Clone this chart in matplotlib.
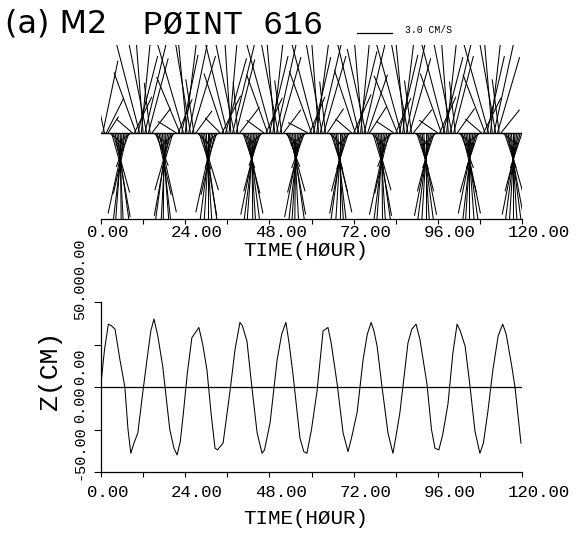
import numpy as np
import matplotlib
matplotlib.use('Agg')
import matplotlib.pyplot as plt
from matplotlib.collections import LineCollection
from matplotlib.transforms import ScaledTranslation
from matplotlib.lines import Line2D

MONO = ['Liberation Mono', 'DejaVu Sans Mono']

# water level at point 616 (hour, cm)
wl_hour = [0.2, 1.0, 2.1, 3.0, 4.0, 5.4, 6.8, 7.7, 8.5, 9.4, 10.5, 11.8, 13.1, 14.2,
           15.1, 16.2, 17.6, 19.6, 20.8, 21.7, 22.6, 23.4, 24.6, 25.9, 27.9, 29.0,
           30.2, 31.4, 32.5, 33.2, 34.8, 36.8, 38.2, 39.6, 40.3, 41.6, 43.0, 44.5,
           45.9, 46.6, 48.2, 50.2, 51.5, 52.7, 53.6, 54.7, 56.7, 57.8, 58.7, 60.0,
           61.6, 63.3, 64.7, 65.6, 67.3, 69.0, 70.4, 71.4, 73.0, 74.7, 75.9, 77.0,
           77.8, 78.7, 80.1, 81.8, 83.2, 84.0, 85.2, 87.5, 88.6, 89.8, 90.9, 92.9,
           94.2, 95.2, 96.3, 97.4, 98.9, 100.3, 101.5, 102.4, 103.8, 105.2, 106.6,
           108.0, 109.0, 110.3, 111.7, 113.2, 114.5, 115.5, 117.1, 118.0, 119.7]
wl_cm = [6, 22, 37, 36, 34, 16, 0, -25, -39, -33, -27, -5, 16, 33,
         40, 30, 12, -25, -36, -40, -32, -17, 8, 29, 35, 25,
         10, -16, -36, -37, -33, -2, 22, 38, 36, 27, 0, -27,
         -39, -37, -21, 16, 31, 38, 26, 8, -30, -38, -39, -25,
         -2, 33, 35, 26, 2, -27, -38, -30, -15, 16, 31, 38,
         33, 24, 0, -27, -39, -30, -15, 26, 34, 37, 28, 2,
         -25, -36, -37, -28, -10, 20, 37, 33, 24, 0, -26,
         -39, -33, -14, 10, 30, 37, 31, 12, 0, -33]

# M2 current sticks every 0.5 h (cm/s): u = east, v = north
u_cms = [
    -1.7, 1.3, -1.0, 1.5, 0.9,
    1.3, 0.9, 1.4, 1.3, 1.2, 0.5, 0.1, -0.7, -1.0, -1.5, -1.2, -1.1, -1.3,
    -1.4, 1.5, -1.9, 1.7, -2.1, 0.9, -0.7, 2.1, -1.6, 1.7, -0.5, 1.6,
    1.1, 1.1, 1.2, 1.5, 1.0, 0.7, -0.1, -0.5, -1.2, -1.3, -1.4, -0.9, -1.2,
    -1.6, 1.2, -2.0, 1.4, -2.3, 1.1, -0.9, 1.9, -1.3, 2.0, -0.7, 1.4,
    1.2, 1.0, 1.5, 1.2, 1.2, 0.6, 0.0, -0.6, -1.1, -1.5, -1.2, -1.0, -1.1,
    -1.3, 1.6, -1.7, 1.8, -2.0, 0.8, -0.6, 2.2, -1.7, 1.6, -0.4, 1.7,
    1.3, 1.0, 1.3, 1.4, 1.1, 0.6, 0.1, -0.7, -1.1, -1.4, -1.3, -1.0, -1.2,
    -1.5, 1.4, -1.8, 1.6, -2.2, 1.0, -0.8, 2.0, -1.5, 1.8, -0.6, 1.5,
    1.2, 1.1, 1.4, 1.3, 1.2, 0.5, -0.1, -0.6, -1.0, -1.4, -1.3, -1.1, -1.3,
    -1.7, 1.3, -1.9, 1.5, -2.1, 1.2, -0.7, 2.1, -1.4, 1.9, -0.5, 1.4,
    1.1, 1.0, 1.3, 1.5, 1.0, 0.6, 0.0, -0.6, -1.2, -1.3, -1.3, -1.0, -1.1,
    -1.4, 1.5, -1.8, 1.7, -2.0, 0.9, -0.8, 2.0, -1.6, 1.7, 1.5,
    1.3, 0.9, 1.4, 1.3, 1.2, 0.6, 0.1, -0.7, -1.1, -1.5, -1.2, -1.1, -1.2,
    -1.5, 1.3, -2.0, 1.6, -2.2, 1.1, -0.9, 1.9, -1.5, 1.8, -0.6, 1.6,
    1.2, 1.0, 1.3, 1.4, 1.1, 0.6, 0.0, -0.6, -1.1, -1.4, -1.3, -1.0, -1.2,
    -1.6, 1.4, -1.8, 1.7, -2.1, 1.0, -0.7, 2.1, -1.6, 1.7, -0.5, 1.5,
    1.3, 1.1, 1.2, 1.4, 1.2, 0.7, 0.0, -0.6, -1.0, -1.4, -1.4, -1.0, -1.3,
    -1.4, 1.5, -1.9, 1.5, -2.2, 1.0, -0.8, 2.0, -1.4, 1.9, -0.6, 1.6,
    1.2, 1.0, 1.4, 1.3, 1.1, 0.6, 0.0, -0.6, -1.1, -1.4, -1.3, -1.0,
]
v_cms = [
    7.8, 6.2, 4.6, 3.0, 1.4,
    -1.1, -3.2, -5.1, -7.2, -8.6, -9.4, -10.1, -9.6, -8.3, -6.9, -5.2, -2.9, -1.0,
    1.2, 3.1, 5.2, 6.6, 8.1, 9.2, 9.4, 8.8, 8.1, 6.4, 4.3, 2.1,
    -0.9, -2.8, -5.3, -6.8, -8.7, -9.6, -9.9, -9.3, -8.6, -7.1, -4.9, -3.1, -1.2,
    1.0, 2.9, 4.8, 6.7, 7.9, 8.9, 9.6, 9.1, 7.8, 6.6, 4.6, 1.9,
    -1.2, -3.1, -4.9, -7.1, -8.4, -9.5, -10.2, -9.4, -8.4, -6.8, -5.3, -3.0, -0.9,
    1.3, 3.2, 5.1, 6.4, 8.2, 9.1, 9.3, 8.9, 8.2, 6.3, 4.4, 2.2,
    -1.0, -3.0, -5.2, -6.9, -8.5, -9.7, -10.0, -9.5, -8.5, -7.0, -5.0, -2.8, -1.1,
    1.1, 3.0, 5.0, 6.6, 8.0, 9.0, 9.5, 9.0, 8.0, 6.5, 4.5, 2.0,
    -1.1, -2.9, -5.0, -7.0, -8.6, -9.5, -9.8, -9.6, -8.4, -7.2, -5.1, -3.0, -1.0,
    0.9, 3.1, 5.3, 6.5, 8.1, 9.1, 9.4, 8.9, 7.9, 6.6, 4.4, 2.1,
    -1.0, -3.1, -5.1, -6.8, -8.7, -9.4, -10.1, -9.5, -8.6, -6.9, -5.0, -3.1, -1.1,
    1.2, 3.3, 5.4, 7.0, 8.4, 9.3, 9.2, 8.5, 7.2, 5.0, 2.3,
    -1.2, -3.0, -4.9, -7.1, -8.5, -9.6, -10.0, -9.3, -8.5, -7.0, -5.2, -2.9, -1.0,
    1.0, 3.0, 4.9, 6.7, 8.0, 9.0, 9.6, 9.0, 8.1, 6.4, 4.5, 2.0,
    -1.0, -3.1, -5.0, -7.0, -8.4, -9.5, -9.9, -9.6, -8.5, -7.1, -5.0, -3.0, -1.2,
    1.1, 3.1, 5.1, 6.5, 8.1, 9.2, 9.4, 8.9, 8.0, 6.6, 4.4, 2.1,
    -1.1, -3.0, -5.1, -6.9, -8.6, -9.4, -10.0, -9.4, -8.6, -6.9, -5.1, -3.0, -1.0,
    1.2, 3.0, 5.0, 6.6, 7.9, 9.0, 9.5, 9.1, 7.9, 6.5, 4.6, 2.0,
    -1.0, -3.0, -5.0, -7.0, -8.5, -9.5, -10.0, -9.5, -8.5, -7.0, -5.0, -3.0,
]
stick_hour = np.arange(len(v_cms)) * 0.5

hour_ticks = [0, 12, 24, 36, 48, 60, 72, 84, 96, 108, 120]
hour_labels = ['0.00', '', '24.00', '', '48.00', '', '72.00', '', '96.00', '', '120.00']
z_ticks = [-50, -25, 0, 25, 50]

W, H = 582, 538
fig = plt.figure(figsize=(W / 100, H / 100), dpi=100)

# 3.0 cm/s drawn as 35 px, same scale both ways
px_per_cms = 35 / 3.0
ax_l, ax_r = 101, 522
px_per_hour = (ax_r - ax_l) / 120
hour_per_cms = px_per_cms / px_per_hour

# ---- stick plot
ax1 = fig.add_axes([ax_l / W, 1 - 219 / H, (ax_r - ax_l) / W, 174 / H])
segs = [[(t, 0), (t + u * hour_per_cms, v)] for t, u, v in zip(stick_hour, u_cms, v_cms)]
ax1.add_collection(LineCollection(segs, colors='black', linewidths=0.75))
ax1.axhline(0, color='black', lw=1.0)
ax1.set_xlim(0, 120)
ax1.set_ylim(-86 / px_per_cms, 88 / px_per_cms)
for s in ['top', 'right', 'left']:
    ax1.spines[s].set_visible(False)
ax1.spines['bottom'].set_linewidth(0.9)
ax1.set_yticks([])
ax1.set_xticks(hour_ticks, hour_labels)
ax1.tick_params(axis='x', direction='out', length=3.6, width=0.8, pad=1)

# ---- water level
ax2 = fig.add_axes([ax_l / W, 1 - 472 / H, (ax_r - ax_l) / W, 170 / H])
ax2.plot(wl_hour, wl_cm, color='black', lw=0.75)
ax2.axhline(0, color='black', lw=0.9)
ax2.set_xlim(0, 120)
ax2.set_ylim(-50, 50)
for s in ['top', 'right']:
    ax2.spines[s].set_visible(False)
for s in ['left', 'bottom']:
    ax2.spines[s].set_linewidth(0.9)
ax2.set_yticks(z_ticks, [''] * len(z_ticks))
ax2.set_xticks(hour_ticks, hour_labels)
ax2.tick_params(axis='x', direction='out', length=3.6, width=0.8, pad=6)
ax2.tick_params(axis='y', direction='out', length=5, width=0.8)

shift = ScaledTranslation(-14 / 100, 0, fig.dpi_scale_trans)
for ax in (ax1, ax2):
    for lbl in ax.get_xticklabels():
        lbl.set_family(MONO)
        lbl.set_fontsize(12.5)
        lbl.set_ha('left')
        lbl.set_transform(lbl.get_transform() + shift)

fig.text(306 / W, 1 - 251 / H, 'TIME(HØUR)', family=MONO, fontsize=15, ha='center', va='center')
fig.text(306 / W, 1 - 519 / H, 'TIME(HØUR)', family=MONO, fontsize=15, ha='center', va='center')

# y labels as printed by the plotter
for txt, yc in [('-50.00', 453), ('0.00', 405), ('0.00', 367), ('50.00', 297), ('0.00', 257)]:
    fig.text(80 / W, 1 - yc / H, txt, family=MONO, fontsize=11, rotation=90, ha='center', va='center')
fig.text(50 / W, 1 - 370 / H, 'Z(CM)', family=MONO, fontsize=19, rotation=90, ha='center', va='center')

# header
fig.text(5 / W, 1 - 24 / H, '(a) M2', fontsize=23, ha='left', va='center')
fig.text(143 / W, 1 - 25 / H, 'PØINT 616', family=MONO, fontsize=24, ha='left', va='center')
fig.add_artist(Line2D([357 / W, (357 + 3.0 * px_per_cms) / W], [1 - 33 / H, 1 - 33 / H],
                      color='black', lw=0.9))
fig.text(405 / W, 1 - 30 / H, '3.0 CM/S', family=MONO, fontsize=7, ha='left', va='center')

fig.savefig('out.png', dpi=100)
